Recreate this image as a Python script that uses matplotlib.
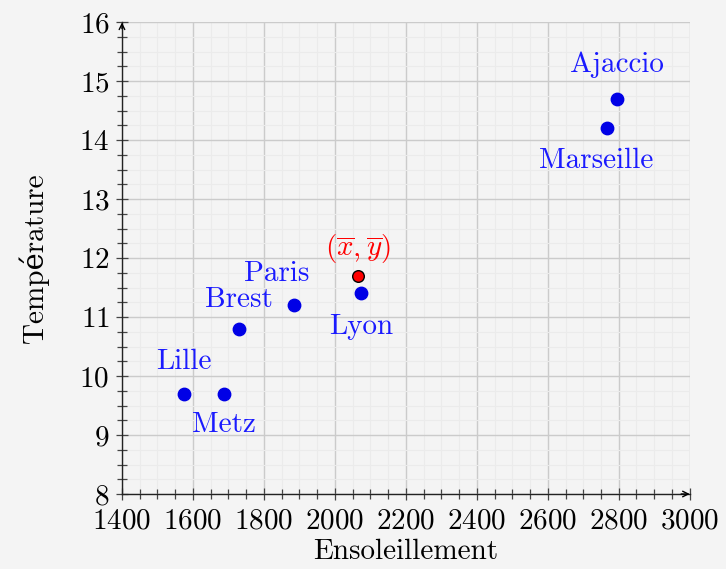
import matplotlib
matplotlib.use("Agg")
import matplotlib.pyplot as plt
from matplotlib.ticker import MultipleLocator

# data
cities = ["Lille", "Metz", "Brest", "Paris", "Lyon", "Marseille", "Ajaccio"]
sunshine = [1575, 1687, 1730, 1885, 2073, 2766, 2794]
temperature = [9.7, 9.7, 10.8, 11.2, 11.4, 14.2, 14.7]
mean_point = (2065, 11.7)

# label offsets in pixels (placement only)
offsets = {
    "Lille": (0, 32), "Metz": (0, -31), "Brest": (0, 29), "Paris": (-17, 31),
    "Lyon": (0, -33), "Marseille": (-10, -33), "Ajaccio": (0, 34),
}

plt.rcParams["font.family"] = ["cmr10", "DejaVu Serif"]
plt.rcParams["mathtext.fontset"] = "cm"
plt.rcParams["axes.formatter.use_mathtext"] = True

bg = "#f4f4f4"
fs = 21
fig = plt.figure(figsize=(7.26, 5.69), dpi=100, facecolor=bg)
ax = fig.add_axes([0.168, 0.1318, 0.782, 0.8295], facecolor=bg)

ax.set_xlim(1400, 3000)
ax.set_ylim(8, 16)
ax.xaxis.set_major_locator(MultipleLocator(200))
ax.xaxis.set_minor_locator(MultipleLocator(50))
ax.yaxis.set_major_locator(MultipleLocator(1))
ax.yaxis.set_minor_locator(MultipleLocator(0.25))

ax.grid(True, which="major", color="#cbcbcb", lw=1.0)
ax.grid(True, which="minor", color="#ebebeb", lw=0.8)
ax.set_axisbelow(True)

for s in ["top", "right"]:
    ax.spines[s].set_visible(False)
for s in ["left", "bottom"]:
    ax.spines[s].set_color("#222222")
    ax.spines[s].set_linewidth(1.0)

ax.tick_params(which="both", direction="inout", color="#444444", width=0.9)
ax.tick_params(which="major", length=8, labelsize=fs)
ax.tick_params(axis="x", which="major", pad=6)
ax.tick_params(axis="y", which="major", pad=5)
ax.tick_params(which="minor", length=7)

# arrow heads on axes
ax.annotate("", xy=(1.005, 0), xytext=(0.98, 0), xycoords="axes fraction",
            arrowprops=dict(arrowstyle="->", color="black", lw=1.0, mutation_scale=10))
ax.annotate("", xy=(0, 1.005), xytext=(0, 0.98), xycoords="axes fraction",
            arrowprops=dict(arrowstyle="->", color="black", lw=1.0, mutation_scale=10))

ax.scatter(sunshine, temperature, s=80, color="#0000e6", zorder=3, clip_on=False)
for name, x, y in zip(cities, sunshine, temperature):
    dx, dy = offsets[name]
    ax.annotate(name, (x, y), xytext=(dx, dy), textcoords="offset pixels",
                ha="center", va="center", color="#1a1aff", fontsize=fs)

ax.scatter([mean_point[0]], [mean_point[1]], s=70, color="#ff0000",
           edgecolor="black", linewidth=1.0, zorder=4)
ax.annotate(r"$(\overline{x},\overline{y})$", mean_point, xytext=(0, 27),
            textcoords="offset pixels", ha="center", va="center",
            color="#ff0000", fontsize=fs)

ax.set_xlabel("Ensoleillement", fontsize=fs, labelpad=3)
ax.set_ylabel("Température", fontsize=fs, labelpad=22)

fig.savefig("out.png", dpi=100, facecolor=bg)
